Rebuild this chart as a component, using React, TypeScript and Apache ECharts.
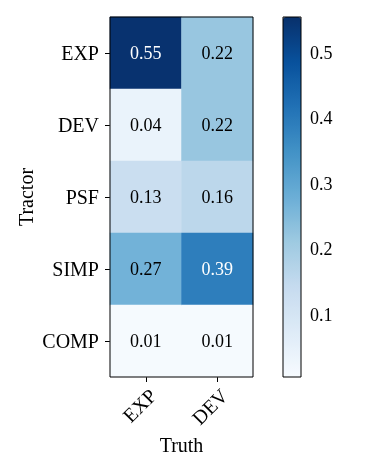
import React, { useEffect, useRef } from 'react';
import * as echarts from 'echarts';

const truthLabels = ['EXP', 'DEV'];
const tractorLabels = ['EXP', 'DEV', 'PSF', 'SIMP', 'COMP'];
const expColumn = [0.55, 0.04, 0.13, 0.27, 0.01];
const devColumn = [0.22, 0.22, 0.16, 0.39, 0.01];
const colorMin = 0.005;
const colorMax = 0.555;
const colorbarTicks = [0.1, 0.2, 0.3, 0.4, 0.5];
const blues = ['#f7fbff', '#deebf7', '#c6dbef', '#9ecae1', '#6baed6', '#4292c6', '#2171b5', '#08519c', '#08306b'];

const FONT = "'Liberation Serif', 'DejaVu Serif', serif";
const FS = 18;
const FS_TXT = 20;

export default function App() {
  const ref = useRef<HTMLDivElement>(null);
  useEffect(() => {
    if (!ref.current) return;
    const chart = echarts.init(ref.current, null, { renderer: 'svg' });
    const columns = [expColumn, devColumn];
    const threshold = (colorMin + colorMax) / 2;
    const data: any[] = [];
    columns.forEach((col, xi) => {
      col.forEach((v, yi) => {
        data.push({ value: [xi, yi, v], label: { color: v > threshold ? '#ffffff' : '#000000' } });
      });
    });
    const tickStyle = { show: true, length: 5, lineStyle: { color: '#000', width: 1 } };
    chart.setOption({
      animation: false,
      textStyle: { fontFamily: FONT },
      grid: [
        { left: 110, top: 17, width: 143, height: 360, show: true, borderColor: '#000', borderWidth: 1, backgroundColor: 'transparent', z: 10 },
        { left: 283, top: 17, width: 18, height: 360, show: true, borderColor: '#000', borderWidth: 1, backgroundColor: 'transparent', z: 10 },
      ],
      xAxis: [
        {
          type: 'category', gridIndex: 0, data: truthLabels,
          axisLine: { show: false },
          axisTick: { ...tickStyle, alignWithLabel: true },
          axisLabel: { rotate: 45, align: 'right', verticalAlign: 'top', margin: 8, fontSize: FS_TXT, color: '#000', fontFamily: FONT },
          name: 'Truth', nameLocation: 'middle', nameGap: 51,
          nameTextStyle: { fontSize: FS_TXT, color: '#000', fontFamily: FONT },
          splitLine: { show: false },
        },
        { type: 'value', gridIndex: 1, show: false, min: 0, max: 1 },
      ],
      yAxis: [
        {
          type: 'category', gridIndex: 0, data: tractorLabels, inverse: true,
          axisLine: { show: false },
          axisTick: { ...tickStyle, alignWithLabel: true },
          axisLabel: { margin: 11, fontSize: FS_TXT, color: '#000', fontFamily: FONT },
          name: 'Tractor', nameLocation: 'middle', nameGap: 74, nameRotate: 90,
          nameTextStyle: { fontSize: FS_TXT, color: '#000', fontFamily: FONT },
          splitLine: { show: false },
        },
        {
          type: 'value', gridIndex: 1, position: 'right', min: colorMin, max: colorMax,
          axisLine: { show: false },
          axisTick: { ...tickStyle, customValues: colorbarTicks },
          axisLabel: { customValues: colorbarTicks, margin: 9, fontSize: FS, color: '#000', fontFamily: FONT, formatter: (v: number) => v.toFixed(1) },
          splitLine: { show: false },
        },
      ],
      visualMap: {
        type: 'continuous', seriesIndex: 0, min: colorMin, max: colorMax,
        calculable: false, hoverLink: false, left: 283, top: 17, itemWidth: 18, itemHeight: 360,
        padding: 0, orient: 'vertical', inRange: { color: blues }, text: null, showLabel: false,
      },
      series: [
        {
          type: 'heatmap', xAxisIndex: 0, yAxisIndex: 0, data,
          label: { show: true, fontSize: FS, fontFamily: FONT, formatter: (p: any) => p.value[2].toFixed(2) },
          itemStyle: { borderWidth: 0 },
          emphasis: { disabled: true },
        },
      ],
    });
    return () => chart.dispose();
  }, []);
  return <div ref={ref} style={{ position: 'fixed', left: 0, top: 0, width: 366, height: 464 }} />;
}
